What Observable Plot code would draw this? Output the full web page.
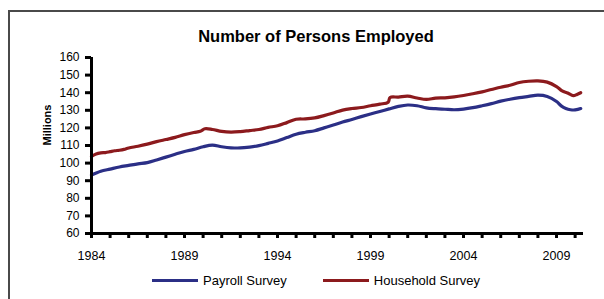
<!DOCTYPE html>
<html>
<head>
<meta charset="utf-8">
<script src="https://cdn.jsdelivr.net/npm/d3@7"></script>
<script src="https://cdn.jsdelivr.net/npm/@observablehq/plot@0.6"></script>
<style>
  html, body { margin: 0; padding: 0; background: #fff; }
  body { font-family: "Liberation Sans", Arial, sans-serif; }
  #wrap { position: relative; width: 604px; height: 299px; overflow: hidden; }
  #frame { position: absolute; left: 8px; top: 10px; width: 700px; height: 400px;
           border-left: 2px solid #4a4a4a; border-top: 2px solid #4a4a4a; }
  #title { position: absolute; left: 0; width: 632px; top: 27px; text-align: center;
           font-weight: bold; font-size: 16.5px; color: #000; }
  #chart { position: absolute; left: 0; top: 50px; }
  #legend { position: absolute; top: 273px; left: 152px; font-size: 13px; color: #000; display: flex; align-items: center; }
  .item { display: flex; align-items: center; }
  .sw { width: 46px; height: 3px; margin-right: 5px; }
</style>
</head>
<body>
<div id="wrap">
  <div id="frame"></div>
  <div id="title">Number of Persons Employed</div>
  <div id="chart"></div>
  <div id="legend"></div>
</div>
<script>
const seriesNames = ["Payroll Survey", "Household Survey"];
const seriesColors = ["#2b2f86", "#8c1a1d"];

const payrollYears = [1984.0,1984.5,1985.0,1985.5,1986.0,1986.5,1987.0,1987.5,1988.0,1988.5,1989.0,1989.5,1990.0,1990.5,1991.0,1991.5,1992.0,1992.5,1993.0,1993.5,1994.0,1994.5,1995.0,1995.5,1996.0,1996.5,1997.0,1997.5,1998.0,1998.5,1999.0,1999.5,2000.0,2000.5,2001.0,2001.5,2002.0,2002.5,2003.0,2003.5,2004.0,2004.5,2005.0,2005.5,2006.0,2006.5,2007.0,2007.5,2008.0,2008.5,2009.0,2009.25,2009.5,2009.75,2010.0,2010.3];
const payrollValues = [93.2,95.4,96.6,97.8,98.7,99.6,100.3,101.8,103.4,105.0,106.6,107.8,109.3,110.2,109.3,108.7,108.6,109.1,109.9,111.2,112.6,114.5,116.4,117.5,118.4,120.0,121.6,123.3,124.8,126.4,127.9,129.3,130.8,132.2,133.0,132.6,131.4,130.9,130.6,130.3,130.7,131.5,132.6,133.8,135.2,136.3,137.2,137.9,138.6,137.9,135.0,132.5,131.0,130.3,130.2,131.0];

const householdYears = [1984.0,1984.25,1984.5,1984.75,1985.0,1985.25,1985.5,1985.75,1986.0,1986.5,1987.0,1987.5,1988.0,1988.5,1989.0,1989.5,1989.85,1990.1,1990.5,1991.0,1991.5,1992.0,1992.5,1993.0,1993.5,1994.0,1994.5,1995.0,1995.5,1996.0,1996.5,1997.0,1997.5,1998.0,1998.5,1999.0,1999.5,1999.95,2000.05,2000.5,2001.0,2001.5,2002.0,2002.5,2003.0,2003.5,2004.0,2004.5,2005.0,2005.5,2006.0,2006.5,2007.0,2007.5,2008.0,2008.5,2009.0,2009.3,2009.6,2009.9,2010.1,2010.3];
const householdValues = [103.8,105.2,105.8,106.0,106.5,107.0,107.3,107.8,108.6,109.6,110.8,112.2,113.4,114.6,116.2,117.4,118.1,119.5,119.1,118.0,117.6,117.9,118.5,119.1,120.3,121.2,123.0,124.9,125.1,125.7,127.0,128.5,130.1,131.0,131.6,132.6,133.5,134.6,137.3,137.5,138.0,137.0,136.2,136.9,137.1,137.6,138.4,139.4,140.5,141.8,143.1,144.2,145.8,146.5,146.7,146.0,143.5,141.0,139.8,138.3,139.0,140.0];

const yearTicks = d3.range(1984, 2011);
const yearLabels = [1984, 1989, 1994, 1999, 2004, 2009];
const valueTicks = d3.range(60, 161, 10);

const rows = [
  ...payrollYears.map((x, i) => ({x, y: payrollValues[i], s: seriesNames[0]})),
  ...householdYears.map((x, i) => ({x, y: householdValues[i], s: seriesNames[1]}))
];

const chart = Plot.plot({
  width: 604,
  height: 220,
  marginLeft: 91,
  marginRight: 21,
  marginTop: 7,
  marginBottom: 37,
  style: {fontFamily: '"Liberation Sans", Arial, sans-serif', fontSize: "12px", color: "#000", background: "transparent"},
  x: {domain: [1984, 2010.45]},
  y: {domain: [60, 160]},
  color: {domain: seriesNames, range: seriesColors},
  marks: [
    Plot.axisY({ticks: valueTicks, tickSize: 6, tickPadding: 6, strokeWidth: 3, label: null, fontSize: 12}),
    Plot.axisX({ticks: yearTicks, tickSize: 5, tickPadding: 13, strokeWidth: 3, label: null, fontSize: 12.5,
                tickFormat: d => yearLabels.includes(d) ? String(d) : ""}),
    Plot.line(rows, {x: "x", y: "y", z: "s", stroke: "s", strokeWidth: 3.2, curve: "catmull-rom"}),
    Plot.ruleX([1984], {strokeWidth: 3}),
    Plot.ruleY([60], {strokeWidth: 3}),
    Plot.text(["Millions"], {frameAnchor: "left", dx: -44, rotate: -90, fontWeight: "bold", fontSize: 11})
  ]
});
document.getElementById("chart").appendChild(chart);

const legend = document.getElementById("legend");
seriesNames.forEach((name, i) => {
  const item = document.createElement("div");
  item.className = "item";
  if (i > 0) item.style.marginLeft = "36px";
  const sw = document.createElement("div");
  sw.className = "sw";
  sw.style.background = seriesColors[i];
  const t = document.createElement("span");
  t.textContent = name;
  item.appendChild(sw);
  item.appendChild(t);
  legend.appendChild(item);
});
</script>
</body>
</html>
